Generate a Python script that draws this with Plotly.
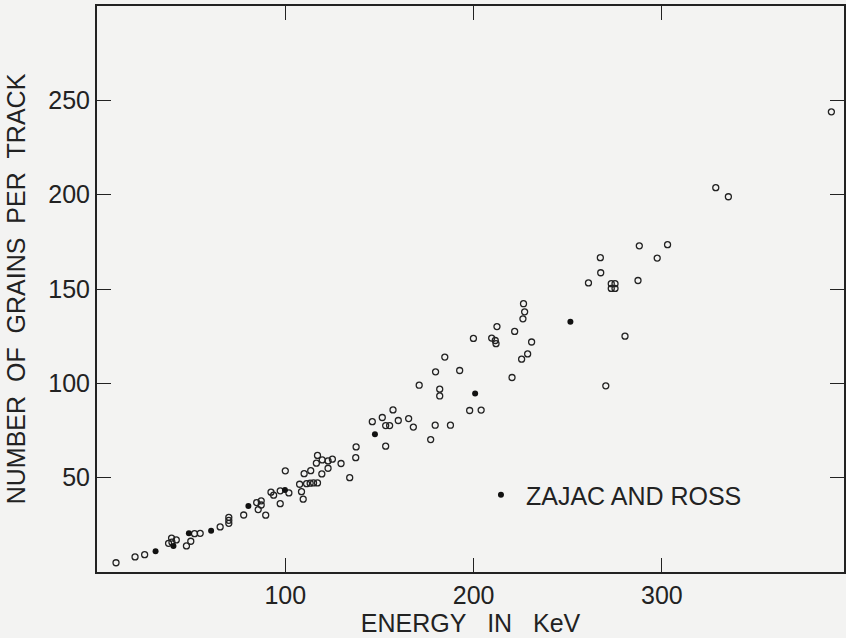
import plotly.graph_objects as go

# Grain counts per track vs. electron energy (open circles: this work)
energy_kev = [
    10.1, 20.2, 25.3, 38.0, 39.6, 42.1, 39.8, 47.5, 49.8, 51.8, 54.8, 65.4,
    70.0, 70.0, 70.0, 77.9, 84.8, 87.2, 85.6, 87.2, 89.6, 92.4, 93.8, 97.3,
    101.9, 97.3, 100.0, 107.6, 108.6, 109.5, 111.3, 113.2, 115.0, 117.1,
    110.0, 113.5, 117.1, 116.5, 119.6, 122.7, 125.0, 122.7, 119.4, 129.6,
    134.2, 137.4, 137.6, 146.2, 151.5, 153.3, 155.4, 153.3, 157.2, 160.0,
    165.5, 168.0, 171.1, 177.2, 179.6, 187.7, 179.8, 182.0, 182.0, 184.7,
    192.6, 197.9, 204.0, 199.9, 209.6, 211.5, 211.9, 212.4, 220.4, 221.8,
    225.5, 228.7, 230.8, 226.2, 227.1, 226.5, 261.0, 267.3, 267.5, 270.2,
    273.1, 275.1, 273.1, 275.1, 280.4, 287.3, 288.0, 297.5, 303.0, 328.6,
    335.3, 390.0,
]
grains = [
    4.9, 8.0, 9.2, 15.2, 18.0, 17.0, 15.8, 13.8, 16.3, 20.3, 20.5, 23.9,
    25.8, 27.4, 29.0, 30.2, 36.8, 37.7, 33.1, 35.5, 30.1, 42.3, 40.7, 43.0,
    41.9, 36.2, 53.6, 46.5, 42.6, 38.6, 46.8, 47.1, 47.2, 47.2,
    52.1, 53.7, 61.8, 57.7, 59.4, 58.9, 59.8, 55.0, 52.0, 57.5,
    50.0, 60.6, 66.3, 79.7, 81.9, 77.6, 77.6, 66.7, 85.9, 80.3,
    81.3, 76.8, 99.0, 70.2, 77.8, 77.8, 106.1, 96.9, 93.3, 113.9,
    106.8, 85.6, 85.8, 123.8, 124.0, 122.7, 121.0, 130.1, 103.1, 127.5,
    112.8, 115.6, 121.9, 134.2, 137.9, 142.2, 153.2, 166.6, 158.6, 98.7,
    152.8, 152.8, 150.3, 150.3, 125.0, 154.5, 172.9, 166.4, 173.5, 203.7,
    198.9, 243.9,
]

# Zajac and Ross (filled dots)
zr_energy_kev = [31.1, 40.6, 48.8, 60.6, 80.4, 99.8, 147.6, 200.8, 251.4]
zr_grains = [11.0, 13.8, 20.5, 21.8, 35.0, 43.5, 73.0, 94.6, 132.6]

x_ticks = [100, 200, 300]
y_ticks = [50, 100, 150, 200, 250]

INK = "#222222"
BG = "#f3f3f2"
FONT = "Liberation Sans, Arial, sans-serif"
NB = "\u00a0"

fig = go.Figure()
fig.add_trace(go.Scatter(
    x=energy_kev, y=grains, mode="markers", showlegend=False,
    marker=dict(symbol="circle-open", size=6, color=INK,
                line=dict(width=1.3, color=INK)),
))
fig.add_trace(go.Scatter(
    x=zr_energy_kev, y=zr_grains, mode="markers",
    name="\u2009ZAJAC AND ROSS",
    marker=dict(symbol="circle", size=6, color="#111111"),
))

axis_common = dict(
    showline=True, linecolor=INK, linewidth=2, mirror="ticks",
    ticks="inside", ticklen=14, tickwidth=1.4, tickcolor=INK,
    showgrid=False, zeroline=False,
    tickfont=dict(family=FONT, size=25, color=INK),
)

fig.update_xaxes(
    range=[0, 396.7], tickvals=x_ticks, ticktext=[str(v) for v in x_ticks],
    title=dict(text=f"ENERGY{NB * 3}IN{NB * 3}KeV",
               font=dict(family=FONT, size=25, color=INK), standoff=4),
    **axis_common,
)
fig.update_yaxes(
    range=[0, 300], tickvals=y_ticks, ticktext=[str(v) for v in y_ticks],
    title=dict(text=f"NUMBER{NB * 2}OF{NB * 2}GRAINS{NB * 2}PER{NB * 2}TRACK",
               font=dict(family=FONT, size=25, color=INK), standoff=16),
    **axis_common,
)

fig.update_layout(
    width=846, height=638,
    margin=dict(l=97, r=0, t=6, b=66),
    paper_bgcolor=BG, plot_bgcolor=BG,
    font=dict(family=FONT, size=25, color=INK),
    legend=dict(x=0.514, y=0.136, xanchor="left", yanchor="middle",
                bgcolor="rgba(0,0,0,0)", borderwidth=0,
                font=dict(family=FONT, size=25, color=INK)),
)

fig.write_html("out.html")
